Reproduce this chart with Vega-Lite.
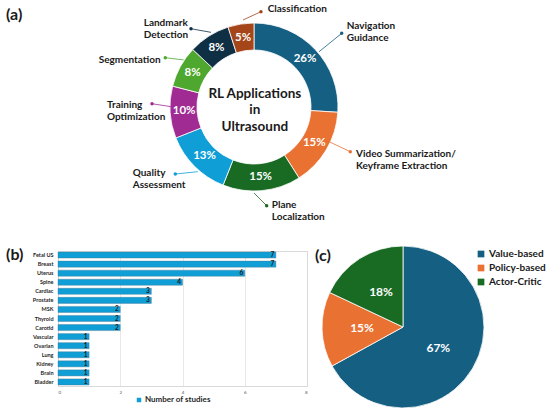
{
  "$schema": "https://vega.github.io/schema/vega-lite/v6.json",
  "padding": {"left": 5, "top": 0, "right": 0, "bottom": 0},
  "background": "white",
  "config": {"font": "Lato", "view": {"stroke": null}},
  "datasets": {
    "donut": [
      {"cat": "Navigation Guidance", "pct": 26, "o": 1, "lab": "26%"},
      {"cat": "Video Summarization/ Keyframe Extraction", "pct": 15, "o": 2, "lab": "15%"},
      {"cat": "Plane Localization", "pct": 15, "o": 3, "lab": "15%"},
      {"cat": "Quality Assessment", "pct": 13, "o": 4, "lab": "13%"},
      {"cat": "Training Optimization", "pct": 10, "o": 5, "lab": "10%"},
      {"cat": "Segmentation", "pct": 8, "o": 6, "lab": "8%"},
      {"cat": "Landmark Detection", "pct": 8, "o": 7, "lab": "8%"},
      {"cat": "Classification", "pct": 5, "o": 8, "lab": "5%"}
    ],
    "labels": [
      {"cat": "Classification", "txt": "Classification", "lx": 0.163, "ly": 1.163},
      {"cat": "Navigation Guidance", "txt": "Navigation\nGuidance", "lx": 1.104, "ly": 0.968},
      {"cat": "Video Summarization/ Keyframe Extraction", "txt": "Video Summarization/\nKeyframe Extraction", "lx": 1.214, "ly": -0.56},
      {"cat": "Plane Localization", "txt": "Plane\nLocalization", "lx": 0.211, "ly": -1.163},
      {"cat": "Quality Assessment", "txt": "Quality\nAssessment", "lx": -1.444, "ly": -0.782},
      {"cat": "Training Optimization", "txt": "Training\nOptimization", "lx": -1.75, "ly": 0.024},
      {"cat": "Segmentation", "txt": "Segmentation", "lx": -1.849, "ly": 0.556},
      {"cat": "Landmark Detection", "txt": "Landmark\nDetection", "lx": -1.313, "ly": 1.004}
    ],
    "leaders": [
      {"cat": "Navigation Guidance", "s": 1, "px": 0.774, "py": 0.658},
      {"cat": "Navigation Guidance", "s": 2, "px": 1.044, "py": 0.877},
      {"cat": "Video Summarization/ Keyframe Extraction", "s": 1, "px": 0.893, "py": -0.413},
      {"cat": "Video Summarization/ Keyframe Extraction", "s": 2, "px": 1.146, "py": -0.532},
      {"cat": "Plane Localization", "s": 1, "px": 0.0, "py": -1.024},
      {"cat": "Plane Localization", "s": 2, "px": 0.151, "py": -1.175},
      {"cat": "Quality Assessment", "s": 1, "px": -0.67, "py": -0.77},
      {"cat": "Quality Assessment", "s": 2, "px": -0.937, "py": -0.798},
      {"cat": "Training Optimization", "s": 1, "px": -0.988, "py": 0.004},
      {"cat": "Training Optimization", "s": 2, "px": -1.214, "py": 0.039},
      {"cat": "Segmentation", "s": 1, "px": -0.837, "py": 0.56},
      {"cat": "Segmentation", "s": 2, "px": -1.056, "py": 0.587},
      {"cat": "Landmark Detection", "s": 1, "px": -0.512, "py": 0.889},
      {"cat": "Landmark Detection", "s": 2, "px": -0.75, "py": 0.932},
      {"cat": "Classification", "s": 1, "px": -0.131, "py": 1.036},
      {"cat": "Classification", "s": 2, "px": 0.083, "py": 1.135}
    ],
    "bars": [
      {"region": "Fetal US", "n": 7},
      {"region": "Breast", "n": 7},
      {"region": "Uterus", "n": 6},
      {"region": "Spine", "n": 4},
      {"region": "Cardiac", "n": 3},
      {"region": "Prostate", "n": 3},
      {"region": "MSK", "n": 2},
      {"region": "Thyroid", "n": 2},
      {"region": "Carotid", "n": 2},
      {"region": "Vascular", "n": 1},
      {"region": "Ovarian", "n": 1},
      {"region": "Lung", "n": 1},
      {"region": "Kidney", "n": 1},
      {"region": "Brain", "n": 1},
      {"region": "Bladder", "n": 1}
    ],
    "pie": [
      {"type": "Value-based", "pct": 67, "o": 1, "lab": "67%"},
      {"type": "Policy-based", "pct": 15, "o": 2, "lab": "15%"},
      {"type": "Actor-Critic", "pct": 18, "o": 3, "lab": "18%"}
    ]
  },
  "spacing": 22,
  "resolve": {"scale": {"color": "independent", "theta": "independent"}, "legend": {"color": "independent"}},
  "vconcat": [
    {
      "width": 392,
      "height": 214,
      "layer": [
        {
          "data": {"name": "donut"},
          "mark": {"type": "arc", "innerRadius": 57, "outerRadius": 84, "stroke": "white", "strokeWidth": 0.8},
          "encoding": {
            "x": {"datum": 0, "type": "quantitative", "scale": {"domain": [-2.333, 2.333], "nice": false, "zero": false}, "axis": null},
            "y": {"datum": 0, "type": "quantitative", "scale": {"domain": [-1.274, 1.274], "nice": false, "zero": false}, "axis": null},
            "theta": {"field": "pct", "type": "quantitative", "stack": true},
            "order": {"field": "o"},
            "color": {
              "field": "cat", "type": "nominal",
              "scale": {
                "domain": ["Navigation Guidance", "Video Summarization/ Keyframe Extraction", "Plane Localization", "Quality Assessment", "Training Optimization", "Segmentation", "Landmark Detection", "Classification"],
                "range": ["#156082", "#E97132", "#196B24", "#0F9ED5", "#A02B93", "#4EA72E", "#0E2F44", "#A5461A"]
              },
              "legend": null
            }
          }
        },
        {
          "data": {"name": "donut"},
          "mark": {"type": "text", "radius": 70, "fontSize": 11.5, "fontWeight": "bold", "fill": "white", "align": "center", "baseline": "middle"},
          "encoding": {
            "x": {"datum": 0, "type": "quantitative", "scale": {"domain": [-2.333, 2.333], "nice": false, "zero": false}, "axis": null},
            "y": {"datum": 0, "type": "quantitative", "scale": {"domain": [-1.274, 1.274], "nice": false, "zero": false}, "axis": null},
            "theta": {"field": "pct", "type": "quantitative", "stack": true},
            "order": {"field": "o"},
            "text": {"field": "lab"}
          }
        },
        {
          "data": {"name": "leaders"},
          "mark": {"type": "line", "strokeWidth": 0.8},
          "encoding": {
            "x": {"field": "px", "type": "quantitative", "scale": {"domain": [-2.333, 2.333], "nice": false, "zero": false}, "axis": null},
            "y": {"field": "py", "type": "quantitative", "scale": {"domain": [-1.274, 1.274], "nice": false, "zero": false}, "axis": null},
            "order": {"field": "s"},
            "color": {"field": "cat", "type": "nominal", "legend": null}
          }
        },
        {
          "data": {"name": "leaders"},
          "transform": [{"filter": "datum.s == 2"}],
          "mark": {"type": "point", "filled": true, "size": 12, "opacity": 1},
          "encoding": {
            "x": {"field": "px", "type": "quantitative", "scale": {"domain": [-2.333, 2.333], "nice": false, "zero": false}, "axis": null},
            "y": {"field": "py", "type": "quantitative", "scale": {"domain": [-1.274, 1.274], "nice": false, "zero": false}, "axis": null},
            "color": {"field": "cat", "type": "nominal", "legend": null}
          }
        },
        {
          "data": {"name": "labels"},
          "mark": {"type": "text", "align": "left", "baseline": "middle", "fontSize": 10, "fontWeight": "bold", "lineHeight": 12, "lineBreak": "\n", "fill": "#1a1a1a"},
          "encoding": {
            "x": {"field": "lx", "type": "quantitative", "scale": {"domain": [-2.333, 2.333], "nice": false, "zero": false}, "axis": null},
            "y": {"field": "ly", "type": "quantitative", "scale": {"domain": [-1.274, 1.274], "nice": false, "zero": false}, "axis": null},
            "text": {"field": "txt"}
          }
        },
        {
          "data": {"values": [{"t": "RL Applications\nin\nUltrasound", "x": 0.01, "y": 0.155}]},
          "mark": {"type": "text", "align": "center", "baseline": "middle", "fontSize": 13.5, "fontWeight": "bold", "lineHeight": 16.5, "lineBreak": "\n", "fill": "#1a1a1a"},
          "encoding": {
            "x": {"field": "x", "type": "quantitative", "scale": {"domain": [-2.333, 2.333], "nice": false, "zero": false}, "axis": null},
            "y": {"field": "y", "type": "quantitative", "scale": {"domain": [-1.274, 1.274], "nice": false, "zero": false}, "axis": null},
            "text": {"field": "t"}
          }
        },
        {
          "data": {"values": [{"t": "(a)", "x": -2.952, "y": 1.095}]},
          "mark": {"type": "text", "align": "left", "baseline": "middle", "fontSize": 16, "fontWeight": "bold", "fill": "#1a1a1a"},
          "encoding": {
            "x": {"field": "x", "type": "quantitative", "scale": {"domain": [-2.333, 2.333], "nice": false, "zero": false}, "axis": null},
            "y": {"field": "y", "type": "quantitative", "scale": {"domain": [-1.274, 1.274], "nice": false, "zero": false}, "axis": null},
            "text": {"field": "t"}
          }
        }
      ]
    },
    {
      "spacing": 7,
      "resolve": {"scale": {"color": "independent", "theta": "independent"}, "legend": {"color": "independent"}},
      "hconcat": [
        {
          "width": 249,
          "height": 135,
          "view": {"stroke": "#d9d9d9", "strokeWidth": 1},
          "layer": [
            {
              "data": {"name": "bars"},
              "mark": {"type": "bar", "stroke": "#4d7890", "strokeWidth": 0.4},
              "encoding": {
                "y": {
                  "field": "region", "type": "nominal", "sort": null,
                  "scale": {"domain": ["Fetal US", "Breast", "Uterus", "Spine", "Cardiac", "Prostate", "MSK", "Thyroid", "Carotid", "Vascular", "Ovarian", "Lung", "Kidney", "Brain", "Bladder"], "paddingInner": 0.33, "paddingOuter": 0.11},
                  "axis": {"title": null, "ticks": false, "domain": false, "labelFontSize": 5.5, "labelFontWeight": "bold", "labelColor": "#1f1f1f", "labelPadding": 5}
                },
                "x": {
                  "field": "n", "type": "quantitative",
                  "scale": {"domain": [0, 8], "nice": false, "zero": true},
                  "axis": {"title": null, "values": [0, 1, 2, 3, 4, 5, 6, 7, 8], "format": "d", "ticks": false, "domain": false, "labelFontSize": 4.5, "labelColor": "#595959", "labelPadding": 3, "grid": true, "gridColor": "#d9d9d9", "gridWidth": 0.6}
                },
                "color": {
                  "datum": "Number of studies", "type": "nominal",
                  "scale": {"range": ["#0F9ED5"]},
                  "legend": {"title": null, "orient": "none", "legendX": 77, "legendY": 145, "symbolType": "square", "symbolSize": 20, "symbolStrokeWidth": 0, "labelFontSize": 8, "labelFontWeight": "bold", "labelColor": "#262626", "labelOffset": 2}
                }
              }
            },
            {
              "data": {"name": "bars"},
              "mark": {"type": "text", "align": "right", "baseline": "middle", "dx": -1.5, "fontSize": 6.5, "fontWeight": "bold", "fill": "#1a1a1a"},
              "encoding": {
                "y": {"field": "region", "type": "nominal", "sort": null},
                "x": {"field": "n", "type": "quantitative"},
                "text": {"field": "n"}
              }
            },
            {
              "data": {"values": [{"t": "(b)"}]},
              "mark": {"type": "text", "align": "left", "baseline": "middle", "fontSize": 16, "fontWeight": "bold", "fill": "#1a1a1a"},
              "encoding": {
                "x": {"datum": -1.67, "type": "quantitative"},
                "y": {"datum": "Fetal US", "type": "nominal"},
                "text": {"field": "t"}
              }
            }
          ]
        },
        {
          "width": 162,
          "height": 158,
          "layer": [
            {
              "data": {"name": "pie"},
              "mark": {"type": "arc", "outerRadius": 81, "stroke": "white", "strokeWidth": 0.8},
              "encoding": {
                "x": {"datum": 0, "type": "quantitative", "scale": {"domain": [-1, 1], "nice": false, "zero": false}, "axis": null},
                "y": {"datum": 0, "type": "quantitative", "scale": {"domain": [-1.012, 0.938], "nice": false, "zero": false}, "axis": null},
                "theta": {"field": "pct", "type": "quantitative", "stack": true},
                "order": {"field": "o"},
                "color": {
                  "field": "type", "type": "nominal",
                  "scale": {"domain": ["Value-based", "Policy-based", "Actor-Critic"], "range": ["#156082", "#E97132", "#196B24"]},
                  "legend": {"title": null, "orient": "none", "legendX": 154, "legendY": -2, "symbolType": "square", "symbolSize": 45, "symbolStrokeWidth": 0, "labelFontSize": 10, "labelFontWeight": "bold", "labelColor": "#1a1a1a", "labelOffset": 3, "rowPadding": 4}
                }
              }
            },
            {
              "data": {"name": "pie"},
              "mark": {"type": "text", "radius": 41, "fontSize": 12, "fontWeight": "bold", "fill": "white", "align": "center", "baseline": "middle"},
              "encoding": {
                "x": {"datum": 0, "type": "quantitative", "scale": {"domain": [-1, 1], "nice": false, "zero": false}, "axis": null},
                "y": {"datum": 0, "type": "quantitative", "scale": {"domain": [-1.012, 0.938], "nice": false, "zero": false}, "axis": null},
                "theta": {"field": "pct", "type": "quantitative", "stack": true},
                "order": {"field": "o"},
                "text": {"field": "lab"}
              }
            },
            {
              "data": {"values": [{"t": "(c)", "x": -1.086, "y": 0.877}]},
              "mark": {"type": "text", "align": "left", "baseline": "middle", "fontSize": 16, "fontWeight": "bold", "fill": "#1a1a1a"},
              "encoding": {
                "x": {"field": "x", "type": "quantitative", "scale": {"domain": [-1, 1], "nice": false, "zero": false}, "axis": null},
                "y": {"field": "y", "type": "quantitative", "scale": {"domain": [-1.012, 0.938], "nice": false, "zero": false}, "axis": null},
                "text": {"field": "t"}
              }
            }
          ]
        }
      ]
    }
  ]
}
